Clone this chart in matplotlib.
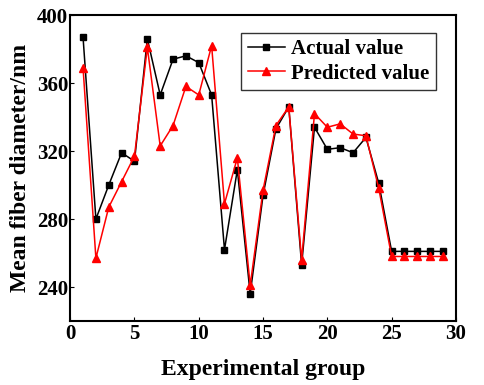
import numpy as np
import matplotlib.pyplot as plt

plt.rcParams['font.family'] = ['Liberation Serif', 'DejaVu Serif']
plt.rcParams['font.weight'] = 'bold'

group = np.arange(1, 30)
actual = [387, 280, 300, 319, 314, 386, 353, 374, 376, 372, 353, 262, 309, 236, 294,
          333, 346, 253, 334, 321, 322, 319, 328, 301, 261, 261, 261, 261, 261]
predicted = [369, 257, 287, 302, 317, 381, 323, 335, 358, 353, 382, 289, 316, 241, 297,
             335, 346, 256, 342, 334, 336, 330, 329, 298, 258, 258, 258, 258, 258]

fig = plt.figure(figsize=(4.84, 3.85), dpi=100)
ax = fig.add_axes([0.145, 0.166, 0.797, 0.795])

ax.plot(group, actual, color='black', marker='s', markersize=5, linewidth=1.1, label='Actual value')
ax.plot(group, predicted, color='red', marker='^', markersize=6, linewidth=1.1, label='Predicted value')

ax.set_xlim(0, 30)
ax.set_ylim(220, 400)
ax.set_xticks([0, 5, 10, 15, 20, 25, 30])
ax.set_yticks([240, 280, 320, 360, 400])
ax.tick_params(direction='in', length=3, labelsize=15)
ax.tick_params(axis='y', pad=1.5)
ax.tick_params(axis='x', pad=2)
for lbl in ax.get_xticklabels() + ax.get_yticklabels():
    lbl.set_fontweight('bold')
for s in ax.spines.values():
    s.set_linewidth(1.5)

ax.set_xlabel('Experimental group', fontsize=17, fontweight='bold', labelpad=11)
ax.set_ylabel('Mean fiber diameter/nm', fontsize=17, fontweight='bold', labelpad=4)

leg = ax.legend(loc='upper right', bbox_to_anchor=(0.975, 0.975), fontsize=15, frameon=True,
                fancybox=False, edgecolor='black', handlelength=1.8, handletextpad=0.3,
                borderpad=0.3, labelspacing=0.2)
leg.get_frame().set_linewidth(1.0)
for t in leg.get_texts():
    t.set_fontweight('bold')

fig.savefig('out.png', dpi=100)
